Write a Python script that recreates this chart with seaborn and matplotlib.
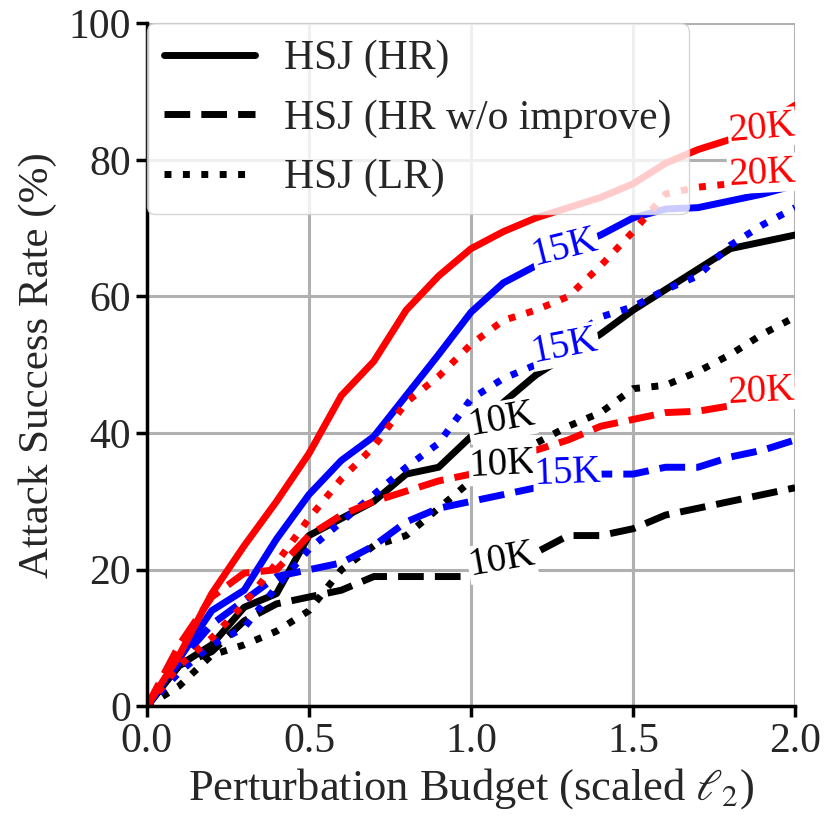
import numpy as np
import pandas as pd
import seaborn as sns
import matplotlib
matplotlib.use("Agg")
import matplotlib.pyplot as plt
from matplotlib.lines import Line2D

# perturbation budget (scaled l2)
budget = [0.0, 0.1, 0.2, 0.3, 0.4, 0.5, 0.6, 0.7, 0.8, 0.9, 1.0,
          1.1, 1.2, 1.3, 1.4, 1.5, 1.6, 1.7, 1.8, 1.9, 2.0]

# HSJ (HR)
hr_10k = [0, 6, 9, 14.5, 16.5, 25, 27.5, 30, 34, 35, 39.5,
          44.5, 48.5, 51.5, 54.5, 58, 61, 64, 67, 68, 69]
hr_15k = [0, 7, 14, 17, 24.5, 31, 36, 39.5, 45.5, 51.5, 57.7,
          62, 64.5, 67, 69, 71.5, 72.8, 73, 74, 75, 76.3]
hr_20k = [0, 7.5, 16.5, 23.5, 30, 37, 45.5, 50.5, 58, 63, 67,
          69.5, 71.5, 73, 74.5, 76.5, 79.5, 81.5, 83, 85, 88]

# HSJ (HR w/o improve)
hrw_10k = [0, 6, 8, 12.5, 15, 16, 17, 19, 19, 19, 19,
           21, 22.5, 25, 25, 26, 28, 29, 30, 31, 32]
hrw_15k = [0, 6.5, 12, 15.5, 19, 20, 21, 23.5, 27, 29, 30,
           31, 32, 33.5, 34, 34, 35, 35, 36.5, 37.5, 39]
hrw_20k = [0, 9, 16, 19.5, 20, 25, 28, 30, 31.5, 33, 34,
           35.5, 37.5, 39, 41, 42, 43, 43.2, 44, 45.5, 47]

# HSJ (LR)
lr_10k = [0, 3, 7.5, 9, 11, 14, 20, 23.5, 25, 29, 33,
          36, 38.5, 41, 43, 46.5, 47, 49, 51.5, 54.5, 57]
lr_15k = [0, 5, 9, 11.5, 17.5, 23, 27, 31, 35, 38.5, 45,
          48, 50, 53.5, 57, 58.5, 61, 63, 67.5, 70.5, 73]
lr_20k = [0, 6, 10, 15, 21, 27.5, 33.3, 38, 44.5, 48.3, 53,
          56.5, 58, 60, 64.5, 69.5, 75, 76, 76.5, 77, 78]

queries = ["10K", "15K", "20K"]
variants = ["HR", "HRw", "LR"]
legend_names = ["HSJ (HR)", "HSJ (HR w/o improve)", "HSJ (LR)"]

series = {
    ("HR", "10K"): hr_10k, ("HR", "15K"): hr_15k, ("HR", "20K"): hr_20k,
    ("HRw", "10K"): hrw_10k, ("HRw", "15K"): hrw_15k, ("HRw", "20K"): hrw_20k,
    ("LR", "10K"): lr_10k, ("LR", "15K"): lr_15k, ("LR", "20K"): lr_20k,
}

# inline labels: (variant, queries, x, y, rotation)
inline_labels = [
    ("HR", "10K", 1.095, 41.9, 10), ("HRw", "10K", 1.095, 21.4, 10),
    ("LR", "10K", 1.098, 35.3, 3), ("HR", "15K", 1.29, 67.1, 14),
    ("HRw", "15K", 1.297, 34.1, 2), ("LR", "15K", 1.29, 52.7, 11),
    ("HR", "20K", 1.897, 84.6, 5), ("HRw", "20K", 1.894, 46.1, 3),
    ("LR", "20K", 1.897, 78.0, 3),
]

rows = []
for (var, q), vals in series.items():
    for b, v in zip(budget, vals):
        rows.append({"budget": b, "rate": v, "queries": q, "variant": var})
df = pd.DataFrame(rows)

sns.set_theme(style="ticks")
plt.rcParams["font.family"] = ["Liberation Serif", "DejaVu Serif"]
plt.rcParams["mathtext.fontset"] = "stix"

colors = {"10K": "black", "15K": "blue", "20K": "red"}
dash_map = {"HR": "", "HRw": (3.7, 1.6), "LR": (1, 1.65)}

fig = plt.figure(figsize=(8.3, 8.3), dpi=100)
ax = fig.add_axes([0.177, 0.149, 0.781, 0.823])

sns.lineplot(data=df, x="budget", y="rate", hue="queries", style="variant",
             hue_order=queries, style_order=variants, palette=colors,
             dashes=dash_map, linewidth=5, legend=False, errorbar=None,
             ax=ax)

for var, q, lx, ly, rot in inline_labels:
    ax.text(lx, ly, q, color=colors[q], fontsize=28, ha="center",
            va="center", rotation=rot, rotation_mode="anchor", zorder=4,
            bbox=dict(facecolor="white", edgecolor="none", pad=0.5))

ax.set_xlim(0, 2.0)
ax.set_ylim(0, 100)
ax.set_xticks([0, 0.5, 1.0, 1.5, 2.0])
ax.set_xticklabels(["0.0", "0.5", "1.0", "1.5", "2.0"])
ax.set_yticks([0, 20, 40, 60, 80, 100])
ax.grid(True, color="#b0b0b0", linewidth=2.2)
ax.set_axisbelow(True)
sns.despine(ax=ax)
for s in ["left", "bottom"]:
    ax.spines[s].set_linewidth(2.5)
    ax.spines[s].set_color("black")
ax.tick_params(axis="both", labelsize=30, length=8, width=2.5,
               direction="out", color="black")

ax.set_xlabel(r"Perturbation Budget (scaled $\ell_2$)", fontsize=32, labelpad=4)
ax.set_ylabel("Attack Success Rate (%)", fontsize=31, labelpad=8)

handles = [
    Line2D([], [], color="black", lw=5, linestyle="-"),
    Line2D([], [], color="black", lw=5, dashes=dash_map["HRw"]),
    Line2D([], [], color="black", lw=5, dashes=dash_map["LR"]),
]
leg = ax.legend(handles, legend_names, loc="upper left", fontsize=30,
                borderaxespad=0, handlelength=2.2, handletextpad=0.7,
                framealpha=0.8, edgecolor="#cccccc", fancybox=True)
leg.set_zorder(10)

fig.savefig("out.png", dpi=100)
